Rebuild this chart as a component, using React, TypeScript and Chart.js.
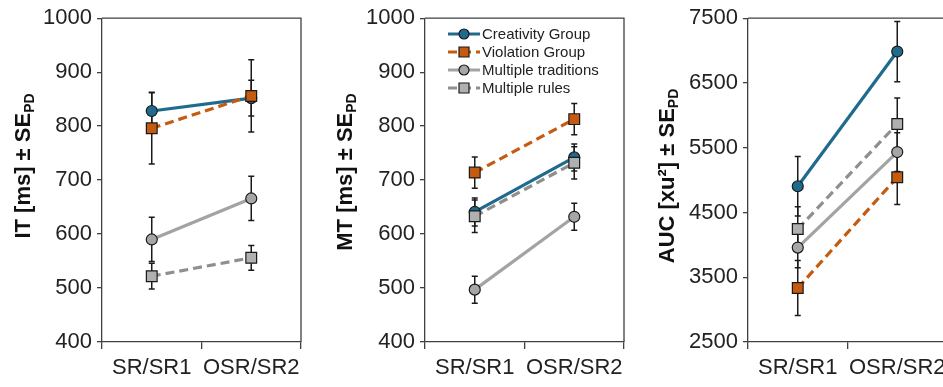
import React, { useEffect, useRef } from 'react';
import { Chart, registerables } from 'chart.js';

Chart.register(...registerables);

// ---------- data ----------
const categories = ['SR/SR1', 'OSR/SR2'];
const seriesNames = ['Creativity Group', 'Violation Group', 'Multiple traditions', 'Multiple rules'];

// IT panel
const itCreativity = [828, 852];
const itCreativityErr = [35, 33];
const itViolation = [796, 856];
const itViolationErr = [66, 67];
const itTraditions = [590, 666];
const itTraditionsErr = [41, 41];
const itRules = [522, 556];
const itRulesErr = [24, 23];

// MT panel
const mtCreativity = [641, 742];
const mtCreativityErr = [26, 25];
const mtViolation = [714, 813];
const mtViolationErr = [29, 29];
const mtTraditions = [497, 632];
const mtTraditionsErr = [25, 25];
const mtRules = [633, 732];
const mtRulesErr = [30, 30];

// AUC panel
const aucCreativity = [4905, 6985];
const aucCreativityErr = [460, 465];
const aucViolation = [3334, 5044];
const aucViolationErr = [425, 420];
const aucTraditions = [3958, 5433];
const aucTraditionsErr = [310, 300];
const aucRules = [4245, 5867];
const aucRulesErr = [345, 400];

// axis ranges
const itRange = { min: 400, max: 1000, step: 100 };
const mtRange = { min: 400, max: 1000, step: 100 };
const aucRange = { min: 2500, max: 7500, step: 1000 };

// ---------- styles ----------
const FONT = '"Liberation Sans", Arial, Helvetica, sans-serif';
const AXIS = '#404040';
const TEXT = '#222222';

const seriesStyles = [
  { line: '#1F6B8E', fill: '#1F6B8E', point: 'circle', radius: 5.5, dash: [] as number[] },
  { line: '#C55A11', fill: '#C55A11', point: 'rect', radius: 7.6, dash: [9, 5] },
  { line: '#A3A3A3', fill: '#A6A6A6', point: 'circle', radius: 5.5, dash: [] as number[] },
  { line: '#8F8F8F', fill: '#B0B0B0', point: 'rect', radius: 7.6, dash: [9, 5] },
];

const decoPlugin = {
  id: 'deco',
  beforeDatasetsDraw(chart: any, _args: any, opts: any) {
    const ctx = chart.ctx;
    const yScale = chart.scales.y;
    const errs: number[][] = opts.errors || [];
    ctx.save();
    ctx.strokeStyle = '#1a1a1a';
    ctx.lineWidth = 1.5;
    chart.data.datasets.forEach((ds: any, i: number) => {
      const meta = chart.getDatasetMeta(i);
      const e = errs[i];
      if (!e) return;
      meta.data.forEach((pt: any, j: number) => {
        const v = ds.data[j];
        const yt = yScale.getPixelForValue(v + e[j]);
        const yb = yScale.getPixelForValue(v - e[j]);
        const x = pt.x;
        ctx.beginPath();
        ctx.moveTo(x, yt);
        ctx.lineTo(x, yb);
        ctx.moveTo(x - 3, yt);
        ctx.lineTo(x + 3, yt);
        ctx.moveTo(x - 3, yb);
        ctx.lineTo(x + 3, yb);
        ctx.stroke();
      });
    });
    ctx.restore();
  },
  afterDraw(chart: any, _args: any, opts: any) {
    const ctx = chart.ctx;
    const a = chart.chartArea;
    // top & right frame lines
    ctx.save();
    ctx.strokeStyle = AXIS;
    ctx.lineWidth = 1.3;
    ctx.beginPath();
    ctx.moveTo(a.left, a.top);
    ctx.lineTo(a.right, a.top);
    ctx.lineTo(a.right, a.bottom);
    ctx.stroke();
    ctx.restore();

    // y-axis title with subscript
    if (opts.title) {
      ctx.save();
      ctx.translate(opts.titleX, opts.titleY);
      ctx.rotate(-Math.PI / 2);
      ctx.fillStyle = '#111';
      ctx.textBaseline = 'alphabetic';
      ctx.textAlign = 'left';
      ctx.font = `bold 22px ${FONT}`;
      const w1 = ctx.measureText(opts.title).width;
      ctx.font = `bold 14px ${FONT}`;
      const w2 = ctx.measureText(opts.sub).width;
      const start = -(w1 + w2) / 2;
      ctx.font = `bold 22px ${FONT}`;
      ctx.fillText(opts.title, start, 0);
      ctx.font = `bold 14px ${FONT}`;
      ctx.fillText(opts.sub, start + w1, 4);
      ctx.restore();
    }

    // legend
    if (opts.legend) {
      const lx = opts.legend.x;
      let ly = opts.legend.y;
      chart.data.datasets.forEach((ds: any, i: number) => {
        const st = seriesStyles[i];
        ctx.save();
        ctx.strokeStyle = st.line;
        ctx.lineWidth = 3;
        ctx.setLineDash(st.dash);
        ctx.beginPath();
        ctx.moveTo(lx, ly);
        ctx.lineTo(lx + 32, ly);
        ctx.stroke();
        ctx.setLineDash([]);
        ctx.fillStyle = st.fill;
        ctx.strokeStyle = '#1a1a1a';
        ctx.lineWidth = 1.2;
        const cx = lx + 16;
        if (st.point === 'circle') {
          ctx.beginPath();
          ctx.arc(cx, ly, 5, 0, Math.PI * 2);
          ctx.fill();
          ctx.stroke();
        } else {
          ctx.beginPath();
          ctx.rect(cx - 5, ly - 5, 10, 10);
          ctx.fill();
          ctx.stroke();
        }
        ctx.fillStyle = TEXT;
        ctx.font = `15px ${FONT}`;
        ctx.textBaseline = 'middle';
        ctx.textAlign = 'left';
        ctx.fillText(ds.label, lx + 34, ly + 1);
        ctx.restore();
        ly += 18;
      });
    }
  },
};

function makeDatasets(values: number[][]) {
  const orders = [4, 3, 2, 1];
  return values.map((vals, i) => {
    const st = seriesStyles[i];
    return {
      label: seriesNames[i],
      data: vals,
      borderColor: st.line,
      backgroundColor: st.fill,
      borderWidth: 3.2,
      borderDash: st.dash,
      pointStyle: st.point,
      pointRadius: st.radius,
      pointBackgroundColor: st.fill,
      pointBorderColor: '#1a1a1a',
      pointBorderWidth: 1.2,
      tension: 0,
      fill: false,
      order: orders[i],
    };
  });
}

function makeConfig(values: number[][], errors: number[][], range: any, deco: any): any {
  return {
    type: 'line',
    data: { labels: categories, datasets: makeDatasets(values) },
    plugins: [decoPlugin],
    options: {
      animation: false,
      responsive: false,
      layout: { padding: { top: 16, right: 22, left: 0, bottom: 0 } },
      plugins: {
        legend: { display: false },
        tooltip: { enabled: false },
        deco: { ...deco, errors },
      },
      scales: {
        x: {
          type: 'category',
          offset: true,
          grid: {
            display: true,
            drawOnChartArea: false,
            drawTicks: true,
            tickLength: 7,
            color: AXIS,
            lineWidth: 1.3,
            offset: true,
          },
          border: { display: true, color: AXIS, width: 1.3 },
          ticks: {
            font: { family: FONT, size: 22 },
            color: TEXT,
            padding: 6,
            maxRotation: 0,
            minRotation: 0,
            autoSkip: false,
          },
          afterFit: (s: any) => {
            s.height = 45;
          },
        },
        y: {
          min: range.min,
          max: range.max,
          grid: {
            display: true,
            drawOnChartArea: false,
            drawTicks: true,
            tickLength: 5,
            color: AXIS,
            lineWidth: 1.3,
          },
          border: { display: true, color: AXIS, width: 1.3 },
          ticks: {
            stepSize: range.step,
            font: { family: FONT, size: 22 },
            color: TEXT,
            padding: 5,
            callback: (v: any) => String(v),
          },
          afterFit: (s: any) => {
            s.width = 102;
          },
        },
      },
    },
  };
}

export default function App() {
  const r1 = useRef<HTMLCanvasElement>(null);
  const r2 = useRef<HTMLCanvasElement>(null);
  const r3 = useRef<HTMLCanvasElement>(null);

  useEffect(() => {
    const c1 = new Chart(
      r1.current as HTMLCanvasElement,
      makeConfig(
        [itCreativity, itViolation, itTraditions, itRules],
        [itCreativityErr, itViolationErr, itTraditionsErr, itRulesErr],
        itRange,
        { title: 'IT [ms] ± SE', sub: 'PD', titleX: 30, titleY: 166 }
      )
    );
    const c2 = new Chart(
      r2.current as HTMLCanvasElement,
      makeConfig(
        [mtCreativity, mtViolation, mtTraditions, mtRules],
        [mtCreativityErr, mtViolationErr, mtTraditionsErr, mtRulesErr],
        mtRange,
        { title: 'MT [ms] ± SE', sub: 'PD', titleX: 29, titleY: 172, legend: { x: 125, y: 34 } }
      )
    );
    const c3 = new Chart(
      r3.current as HTMLCanvasElement,
      makeConfig(
        [aucCreativity, aucViolation, aucTraditions, aucRules],
        [aucCreativityErr, aucViolationErr, aucTraditionsErr, aucRulesErr],
        aucRange,
        { title: 'AUC [xu²] ± SE', sub: 'PD', titleX: 28, titleY: 176 }
      )
    );
    return () => {
      c1.destroy();
      c2.destroy();
      c3.destroy();
    };
  }, []);

  const wrap: React.CSSProperties = { position: 'absolute', top: 0, width: 323, height: 387 };
  return (
    <div
      style={{
        position: 'fixed',
        left: 0,
        top: 0,
        width: 943,
        height: 387,
        overflow: 'hidden',
        background: '#ffffff',
      }}
    >
      <div style={{ ...wrap, left: 0 }}>
        <canvas ref={r1} width={323} height={387} />
      </div>
      <div style={{ ...wrap, left: 323 }}>
        <canvas ref={r2} width={323} height={387} />
      </div>
      <div style={{ ...wrap, left: 646 }}>
        <canvas ref={r3} width={323} height={387} />
      </div>
    </div>
  );
}
